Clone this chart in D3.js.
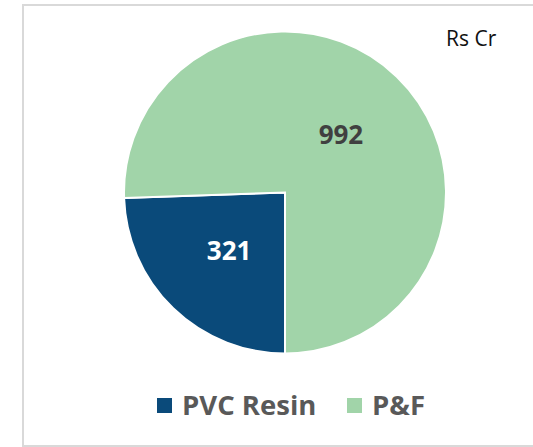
<!DOCTYPE html>
<html>
<head>
<meta charset="utf-8">
<script src="https://cdn.jsdelivr.net/npm/d3@7"></script>
<style>
  body { margin: 0; background: #fff; }
  svg { display: block; font-family: "Open Sans", sans-serif; }
</style>
</head>
<body>
<script>
// chart data
var categories = ["PVC Resin", "P&F"];
var values = [321, 992];
var colors = ["#0a4a7a", "#a1d4a9"];
var labelColors = ["#ffffff", "#404040"];
var unitLabel = "Rs Cr";

var width = 533,
    height = 447;

var svg = d3.select("body")
    .append("svg")
    .attr("width", width)
    .attr("height", height);

//chart frame
svg.append("rect")
    .attr("x", 23)
    .attr("y", 5)
    .attr("width", 540)
    .attr("height", 441)
    .attr("fill", "#fff")
    .attr("stroke", "#d9d9d9")
    .attr("stroke-width", 2);

var cx = 285, cy = 192.5, radius = 161;

//first slice starts at 6 o'clock, like the source
var pie = d3.pie()
    .sort(null)
    .startAngle(Math.PI)
    .endAngle(3 * Math.PI);

var arc = d3.arc()
    .innerRadius(0)
    .outerRadius(radius);

var labelArc = d3.arc()
    .innerRadius(radius * 0.5)
    .outerRadius(radius * 0.5);

var g = svg.append("g")
    .attr("transform", "translate(" + cx + "," + cy + ")");

var slices = pie(values);

g.selectAll(".slice")
    .data(slices)
    .enter()
    .append("path")
    .attr("class", "slice")
    .attr("d", arc)
    .attr("fill", function(d, i){ return colors[i]; })
    .attr("stroke", "#fff")
    .attr("stroke-width", 2);

g.selectAll(".value")
    .data(slices)
    .enter()
    .append("text")
    .attr("class", "value")
    .attr("transform", function(d){
        var c = labelArc.centroid(d);
        return "translate(" + c[0] + "," + c[1] + ")";
    })
    .attr("text-anchor", "middle")
    .attr("dy", "0.36em")
    .attr("font-size", 26)
    .attr("font-weight", "bold")
    .attr("fill", function(d, i){ return labelColors[i]; })
    .text(function(d){ return d.data; });

//unit label
svg.append("text")
    .attr("x", 446)
    .attr("y", 46)
    .attr("font-size", 21)
    .attr("fill", "#111")
    .text(unitLabel);

//legend
var legendX = [157, 347];
var legend = svg.selectAll(".legend")
    .data(categories)
    .enter()
    .append("g")
    .attr("class", "legend")
    .attr("transform", function(d, i){ return "translate(" + legendX[i] + ",398)"; });

legend.append("rect")
    .attr("width", 15)
    .attr("height", 15)
    .attr("fill", function(d, i){ return colors[i]; });

legend.append("text")
    .attr("x", 25)
    .attr("y", 17)
    .attr("font-size", 27.5)
    .attr("font-weight", "bold")
    .attr("fill", "#595959")
    .text(function(d){ return d; });
</script>
</body>
</html>
